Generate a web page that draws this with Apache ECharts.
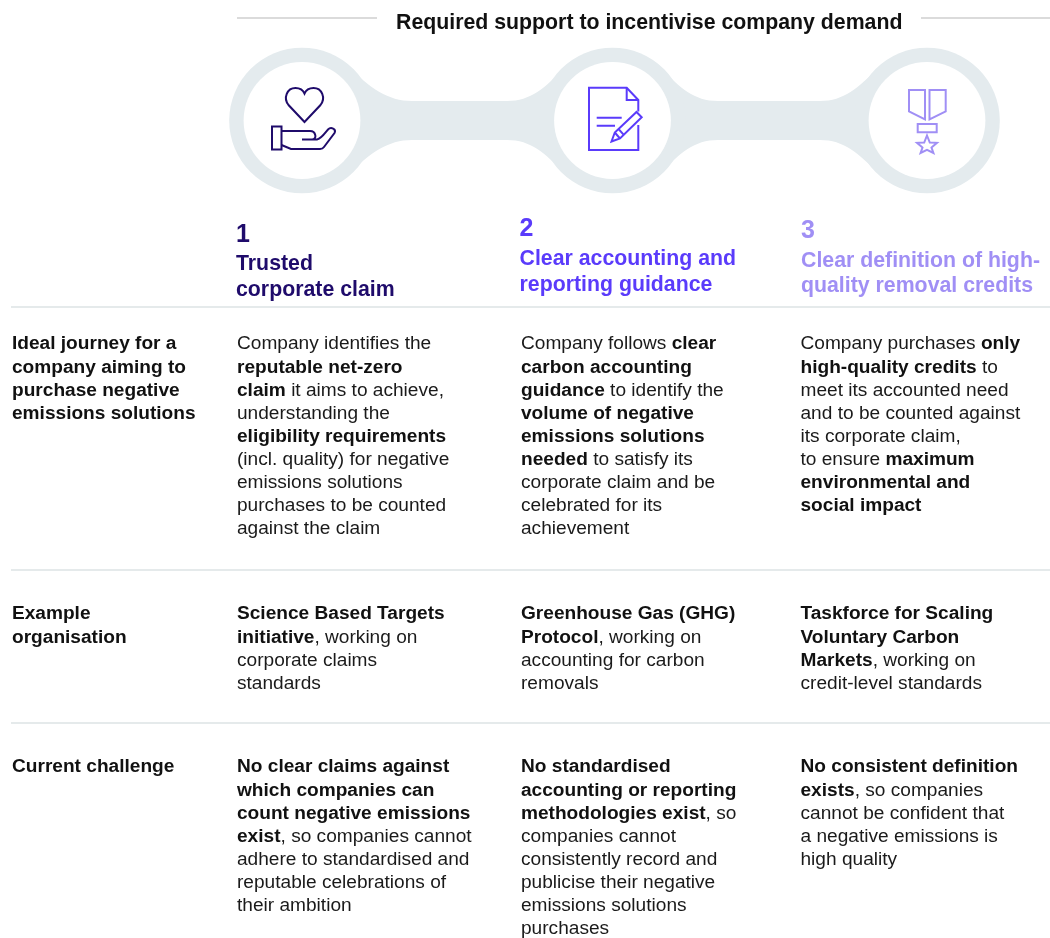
<!DOCTYPE html>
<html>
<head>
<meta charset="utf-8">
<title>Required support to incentivise company demand</title>
<script src="https://cdn.jsdelivr.net/npm/echarts@6/dist/echarts.min.js"></script>
<style>
  html, body { margin: 0; padding: 0; background: #fff; }
  #main { width: 1050px; height: 938px; }
</style>
</head>
<body>
<div id="main"></div>
<script>
// text of the table, **..** marks the bold runs
const title = "Required support to incentivise company demand";
const stepNumbers = ["1", "2", "3"];
const stepTitles = [
  ["Trusted", "corporate claim"],
  ["Clear accounting and", "reporting guidance"],
  ["Clear definition of high-", "quality removal credits"],
];
const rowLabels = [
  ["**Ideal journey for a**", "**company aiming to**", "**purchase negative**", "**emissions solutions**"],
  ["**Example**", "**organisation**"],
  ["**Current challenge**"],
];
const journeyText = [
  ["Company identifies the", "**reputable net-zero**", "**claim** it aims to achieve,", "understanding the", "**eligibility requirements**", "(incl. quality) for negative", "emissions solutions", "purchases to be counted", "against the claim"],
  ["Company follows **clear**", "**carbon accounting**", "**guidance** to identify the", "**volume of negative**", "**emissions solutions**", "**needed** to satisfy its", "corporate claim and be", "celebrated for its", "achievement"],
  ["Company purchases **only**", "**high-quality credits** to", "meet its accounted need", "and to be counted against", "its corporate claim,", "to ensure **maximum**", "**environmental and**", "**social impact**"],
];
const exampleText = [
  ["**Science Based Targets**", "**initiative**, working on", "corporate claims", "standards"],
  ["**Greenhouse Gas (GHG)**", "**Protocol**, working on", "accounting for carbon", "removals"],
  ["**Taskforce for Scaling**", "**Voluntary Carbon**", "**Markets**, working on", "credit-level standards"],
];
const challengeText = [
  ["**No clear claims against**", "**which companies can**", "**count negative emissions**", "**exist**, so companies cannot", "adhere to standardised and", "reputable celebrations of", "their ambition"],
  ["**No standardised**", "**accounting or reporting**", "**methodologies exist**, so", "companies cannot", "consistently record and", "publicise their negative", "emissions solutions", "purchases"],
  ["**No consistent definition**", "**exists**, so companies", "cannot be confident that", "a negative emissions is", "high quality"],
];

const stepColors = ["#1f0b6b", "#5a3bfb", "#a08ff5"];
const bandColor = "#e4ebee";
const ruleColor = "#dde3e5";
const fontFamily = '"Liberation Sans", Arial, sans-serif';

const chart = echarts.init(document.getElementById("main"), null, { renderer: "canvas" });
const els = [];
let shapeCount = 0;

function line(x1, y1, x2, y2, color, w) {
  els.push({
    type: "line",
    shape: { x1, y1, x2, y2 },
    style: { stroke: color, lineWidth: w },
  });
}

// graphic has no plain "path" type, so each svg path gets registered as a shape
function addPath(d, style) {
  const name = "shape" + shapeCount++;
  echarts.graphic.registerShape(name, echarts.graphic.extendPath(d, {}));
  els.push({ type: name, style });
}

function iconPath(d, color) {
  addPath(d, { fill: "none", stroke: color, lineWidth: 2, lineJoin: "miter" });
}

// one text line, split in plain and bold runs
function textLine(str, x, y, size) {
  const parts = str.split("**");
  let out = "";
  parts.forEach((p, i) => {
    if (p) out += (i % 2 ? "{b|" : "{r|") + p + "}";
  });
  els.push({
    type: "text",
    x,
    y,
    style: {
      text: out,
      verticalAlign: "middle",
      rich: {
        r: { fontFamily, fontSize: size, fill: "#1a1a1a" },
        b: { fontFamily, fontSize: size, fontWeight: "bold", fill: "#111" },
      },
    },
  });
}

function block(lines, x, y, size, lh) {
  lines.forEach((l, i) => textLine(l, x, y + i * lh, size));
}

function plain(text, x, y, size, color) {
  els.push({
    type: "text",
    x,
    y,
    style: { text, fontFamily, fontSize: size, fontWeight: "bold", fill: color, verticalAlign: "middle" },
  });
}

// header
line(237, 18, 377, 18, "#cfcfcf", 1.3);
line(921, 18, 1050, 18, "#cfcfcf", 1.3);
plain(title, 396, 23.5, 21.3, "#111");

// band behind the icons
const cx = [302, 612.5, 927];
const cy = 120.5;
const outer = 72.8;
const inner = 58.4;
let band = "";
band += "M 350 68 C 370 88 388 101 412 101 L 507 101 C 531 101 545 88 564 68 ";
band += "L 661 68 C 680 88 694 101 718 101 L 820 101 C 844 101 858 88 878 68 ";
band += "L 878 173 C 858 153 844 140 820 140 L 718 140 C 694 140 680 153 661 173 ";
band += "L 564 173 C 545 153 531 140 507 140 L 412 140 C 388 140 370 153 350 173 Z";
addPath(band, { fill: bandColor });
cx.forEach((c) => {
  els.push({ type: "circle", shape: { cx: c, cy, r: outer }, style: { fill: bandColor } });
});
cx.forEach((c) => {
  els.push({ type: "circle", shape: { cx: c, cy, r: inner }, style: { fill: "#fff" } });
});

// icon 1, heart over a hand
iconPath("M 304.5 122 L 288.5 105 C 283 98 287 88 295.5 88 C 300 88 303 90 304.5 93.5 C 306 90 309 88 313.5 88 C 322 88 326 98 320.5 105 Z", stepColors[0]);
iconPath("M 272 126.5 L 281.5 126.5 L 281.5 149.5 L 272 149.5 Z", stepColors[0]);
iconPath("M 281.5 131 L 310 131 C 316 131 317.5 139.5 312 139.5 L 302 139.5 M 312 139.5 L 317 139.5 C 321 139 325 133 328 129.5 C 331 126.5 336.5 129 334.5 133 L 324 147 C 323 148.5 322.5 149 320 149 L 291 149 L 281.5 145", stepColors[0]);

// icon 2, document with pencil
iconPath("M 638.3 111.5 L 638.3 100 L 626.7 87.7 L 589 87.7 L 589 150 L 638.3 150 L 638.3 125", stepColors[1]);
iconPath("M 626.7 87.7 L 626.7 100 L 638.3 100", stepColors[1]);
iconPath("M 596.7 117.7 L 621.7 117.7 M 596.7 125.7 L 615 125.7", stepColors[1]);
iconPath("M 611.5 141.5 L 614.8 132.5 L 636.5 112 L 641.7 117.3 L 620 138.5 Z M 614.8 132.5 L 620 138.5 M 618.5 129 L 623.8 134.8", stepColors[1]);

// icon 3, medal
iconPath("M 909 90 L 925 90 L 925 119.5 L 909 111.5 Z", stepColors[2]);
iconPath("M 929.5 90 L 945.7 90 L 945.7 111.5 L 929.5 119.5 Z", stepColors[2]);
iconPath("M 917.7 124 L 936.7 124 L 936.7 132.3 L 917.7 132.3 Z", stepColors[2]);
iconPath("M 927 135.5 L 929.8 142.5 L 937 142.8 L 931.5 147.6 L 933.4 153 L 927 149.8 L 920.6 153 L 922.5 147.6 L 917 142.8 L 924.2 142.5 Z", stepColors[2]);

// step headings
const headX = [236, 519.5, 801];
const numY = [235, 229, 231];
const headY = [[264, 290], [259, 285], [261, 286]];
stepNumbers.forEach((n, i) => {
  plain(n, headX[i], numY[i], 25, stepColors[i]);
  stepTitles[i].forEach((t, j) => plain(t, headX[i], headY[i][j], 21.3, stepColors[i]));
});

// rows
[307, 570, 723].forEach((y) => line(11, y, 1050, y, ruleColor, 1.3));

const lh = 23.1;
const bodySize = 19.1;
const colX = [237, 521, 800.5];
block(rowLabels[0], 12, 344.2, bodySize, lh);
block(rowLabels[1], 12, 614.2, bodySize, lh);
block(rowLabels[2], 12, 767.2, bodySize, lh);
journeyText.forEach((t, i) => block(t, colX[i], 344.2, bodySize, lh));
exampleText.forEach((t, i) => block(t, colX[i], 614.2, bodySize, lh));
challengeText.forEach((t, i) => block(t, colX[i], 767.2, bodySize, lh));

chart.setOption({ animation: false, graphic: { elements: els } });
</script>
</body>
</html>
